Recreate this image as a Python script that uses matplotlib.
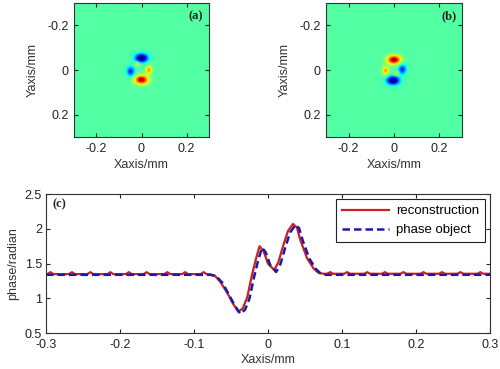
import numpy as np
import matplotlib
matplotlib.use("Agg")
import matplotlib.pyplot as plt

plt.rcParams['font.family'] = ['Liberation Sans', 'DejaVu Sans']

# ---- panel (a)/(b) blob descriptions (centre x, centre y, amplitude, widths) in mm ----
a_cx = [0.000, 0.000, -0.048, 0.033, -0.019]
a_cy = [-0.054, 0.044, 0.006, 0.000, -0.028]
a_amp = [-1.05, 1.10, -0.60, 0.60, 0.45]
a_sx = [0.019, 0.021, 0.012, 0.010, 0.007]
a_sy = [0.013, 0.014, 0.015, 0.014, 0.007]

b_cx = [0.000, -0.004, 0.037, -0.037, 0.012]
b_cy = [-0.046, 0.047, -0.003, 0.003, 0.015]
b_amp = [1.10, -1.05, -0.60, 0.60, 0.45]
b_sx = [0.021, 0.019, 0.012, 0.010, 0.007]
b_sy = [0.014, 0.013, 0.015, 0.014, 0.007]

# ---- panel (c) profile ----
red_x = [-0.300, -0.080, -0.072, -0.0645, -0.055, -0.047, -0.040, -0.034, -0.028,
         -0.022, -0.016, -0.0114, -0.006, 0.000, 0.0085, 0.014, 0.020, 0.027,
         0.0338, 0.039, 0.0437, 0.0527, 0.0617, 0.068, 0.075, 0.300]
red_y = [1.350, 1.350, 1.330, 1.240, 1.080, 0.920, 0.810, 0.860, 1.020,
         1.320, 1.580, 1.750, 1.680, 1.500, 1.410, 1.520, 1.740, 1.970,
         2.070, 2.020, 1.840, 1.580, 1.430, 1.370, 1.355, 1.355]
red_ripple_x = [-0.294, -0.265, -0.240, -0.213, -0.188, -0.164, -0.136, -0.112, -0.087,
                0.084, 0.107, 0.134, 0.158, 0.183, 0.210, 0.235, 0.260, 0.287]
red_ripple_y = 1.378

blue_x = [-0.300, -0.078, -0.070, -0.062, -0.053, -0.045, -0.0375, -0.031, -0.025,
          -0.019, -0.013, -0.008, -0.003, 0.003, 0.011, 0.017, 0.023, 0.030,
          0.037, 0.042, 0.047, 0.056, 0.065, 0.071, 0.078, 0.300]
blue_y = [1.340, 1.340, 1.320, 1.230, 1.060, 0.900, 0.780, 0.840, 1.000,
          1.300, 1.560, 1.730, 1.660, 1.480, 1.380, 1.500, 1.720, 1.950,
          2.055, 2.010, 1.830, 1.570, 1.420, 1.360, 1.340, 1.340]

x_ticks_img = [-0.2, 0, 0.2]
y_ticks_img = [-0.2, 0, 0.2]
x_ticks_c = [-0.3, -0.2, -0.1, 0, 0.1, 0.2, 0.3]
y_ticks_c = [0.5, 1, 1.5, 2, 2.5]


def field(cx, cy, amp, sx, sy):
    g = np.linspace(-0.3, 0.3, 140)
    X, Y = np.meshgrid(g, g)
    Z = np.zeros_like(X)
    for x0, y0, a, wx, wy in zip(cx, cy, amp, sx, sy):
        Z += a * np.exp(-((X - x0) ** 2 / (2 * wx ** 2) + (Y - y0) ** 2 / (2 * wy ** 2)))
    return Z


def fmt(v):
    return '%g' % v


fig = plt.figure(figsize=(5.0, 3.69), dpi=100)

for pos, (cx, cy, amp, sx, sy), lab in [
        ([0.148, 0.6287, 0.270, 0.363], (a_cx, a_cy, a_amp, a_sx, a_sy), '(a)'),
        ([0.652, 0.6287, 0.272, 0.363], (b_cx, b_cy, b_amp, b_sx, b_sy), '(b)')]:
    ax = fig.add_axes(pos)
    Z = field(cx, cy, amp, sx, sy)
    ax.imshow(Z, cmap='jet', vmin=-0.9, vmax=1.1, extent=[-0.3, 0.3, 0.3, -0.3],
              interpolation='bilinear', aspect='auto')
    ax.set_xlim(-0.3, 0.3)
    ax.set_ylim(0.3, -0.3)
    ax.set_xticks(x_ticks_img)
    ax.set_yticks(y_ticks_img)
    ax.set_xticklabels([fmt(v) for v in x_ticks_img])
    ax.set_yticklabels([fmt(v) for v in y_ticks_img])
    ax.tick_params(direction='in', top=True, right=True, labelsize=9, length=3,
                   width=0.8, pad=4, colors='#222222')
    ax.set_xlabel('Xaxis/mm', fontsize=9, labelpad=3, color='#333333')
    ax.set_ylabel('Yaxis/mm', fontsize=9, labelpad=6, color='#333333')
    for sp in ax.spines.values():
        sp.set_linewidth(0.8)
        sp.set_color('#333333')
    ax.text(0.905, 0.90, lab, transform=ax.transAxes, fontsize=9, fontweight='bold',
            family='Liberation Serif', ha='center', va='center', color='#222222')

# panel (c)
axc = fig.add_axes([0.092, 0.0967, 0.888, 0.3775])
# red line with its small ripples on the flat parts
pts = list(zip(red_x, red_y))
for c in red_ripple_x:
    base = np.interp(c, red_x, red_y)
    pts += [(c - 0.004, base), (c, red_ripple_y), (c + 0.004, base)]
pts.sort()
rx = [p[0] for p in pts]
ry = [p[1] for p in pts]
axc.plot(rx, ry, color='#cc1f1f', lw=1.6, label='reconstruction')
axc.plot(blue_x, blue_y, color='#1a1aa8', lw=1.8, ls=(0, (3, 1.6)), label='phase object')
axc.set_xlim(-0.3, 0.3)
axc.set_ylim(0.5, 2.5)
axc.set_xticks(x_ticks_c)
axc.set_yticks(y_ticks_c)
axc.set_xticklabels([fmt(v) for v in x_ticks_c])
axc.set_yticklabels([fmt(v) for v in y_ticks_c])
axc.tick_params(direction='in', top=True, right=True, labelsize=9, length=3,
                width=0.8, colors='#222222')
axc.tick_params(axis='x', pad=4)
axc.tick_params(axis='y', pad=3)
axc.set_xlabel('Xaxis/mm', fontsize=9, labelpad=2, color='#333333')
axc.set_ylabel('phase/radian', fontsize=9, labelpad=4, color='#333333')
for sp in axc.spines.values():
    sp.set_linewidth(0.8)
    sp.set_color('#333333')
axc.text(0.03, 0.925, '(c)', transform=axc.transAxes, fontsize=9, fontweight='bold',
         family='Liberation Serif', ha='center', va='center', color='#222222')
leg = axc.legend(loc='upper right', fontsize=9.5, fancybox=False, framealpha=1,
                 edgecolor='#222222', borderaxespad=0.4, handlelength=3.6,
                 borderpad=0.45, labelspacing=0.5, handletextpad=0.5)
leg.get_frame().set_linewidth(0.8)

fig.savefig('out.png', dpi=100)
